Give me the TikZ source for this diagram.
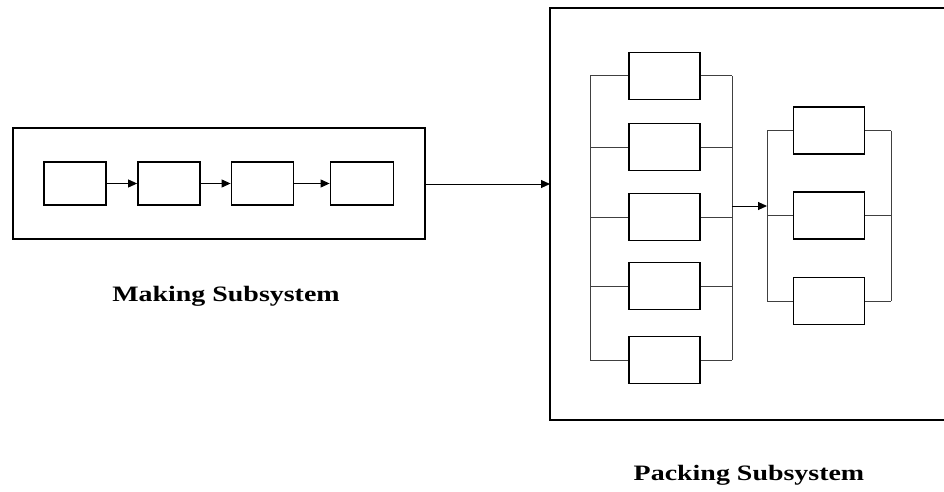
\documentclass[tikz,border=0pt]{standalone}
\usepackage{fontspec}
\setmainfont{Liberation Serif}
\usetikzlibrary{arrows.meta}
\begin{document}
\begin{tikzpicture}[x=1pt,y=-1pt,
  outerbox/.style={draw,line width=2pt},
  unit/.style={draw,line width=1.8pt},
  bus/.style={draw=black!75,line width=1pt},
  flow/.style={draw,line width=1pt,-{Triangle[length=9pt,width=8pt]}},
  lbl/.style={font=\bfseries\fontsize{22}{26}\selectfont}]
\useasboundingbox (0,0) rectangle (944,492);
% Making subsystem
\draw[outerbox] (13,128) rectangle (425,239);
\node[unit,minimum width=62pt,minimum height=43pt,inner sep=0pt] (m1) at (75,183.5) {};
\node[unit,minimum width=62pt,minimum height=43pt,inner sep=0pt] (m2) at (169,183.5) {};
\node[unit,minimum width=62pt,minimum height=43pt,inner sep=0pt] (m3) at (262.5,183.5) {};
\node[unit,minimum width=63pt,minimum height=43pt,inner sep=0pt] (m4) at (362,183.5) {};
\draw[flow] (m1) -- (m2);
\draw[flow] (m2) -- (m3);
\draw[flow] (m3) -- (m4);
\node[lbl] (mlab) at (226,296) {\scalebox{1.27}[1]{Making Subsystem}};
% Packing subsystem
\draw[outerbox] (946,8) -- (550,8) -- (550,420) -- (946,420);
\coordinate (pin) at (550,184);
\coordinate (mout) at (425,184);
\draw[flow] (mout) -- (pin);
\foreach \i/\y in {1/76,2/147,3/217,4/286,5/360}{
  \node[unit,minimum width=71pt,minimum height=47pt,inner sep=0pt] (p\i) at (664.5,\y) {};
}
\coordinate (lt) at (590,76);
\coordinate (lb) at (590,360);
\coordinate (rt) at (732,76);
\coordinate (rb) at (732,360);
\draw[bus] (lt) -- (lb);
\draw[bus] (rt) -- (rb);
\foreach \i in {1,...,5}{
  \draw[bus] (p\i.west) -- (p\i.west -| lt);
  \draw[bus] (p\i.east) -- (p\i.east -| rt);
}
\foreach \i/\y in {1/130.5,2/215.5,3/301}{
  \node[unit,minimum width=71pt,minimum height=47pt,inner sep=0pt] (q\i) at (829,\y) {};
}
\coordinate (qlt) at (767,130.5);
\coordinate (qlb) at (767,301);
\coordinate (qrt) at (891,130.5);
\coordinate (qrb) at (891,301);
\draw[bus] (qlt) -- (qlb);
\draw[bus] (qrt) -- (qrb);
\foreach \i in {1,2,3}{
  \draw[bus] (q\i.west) -- (q\i.west -| qlt);
  \draw[bus] (q\i.east) -- (q\i.east -| qrt);
}
\coordinate (pa) at (732,206);
\coordinate (pb) at (767,206);
\draw[flow] (pa) -- (pb);
\node[lbl] (plab) at (749,475) {\scalebox{1.27}[1]{Packing Subsystem}};
\end{tikzpicture}
\end{document}
